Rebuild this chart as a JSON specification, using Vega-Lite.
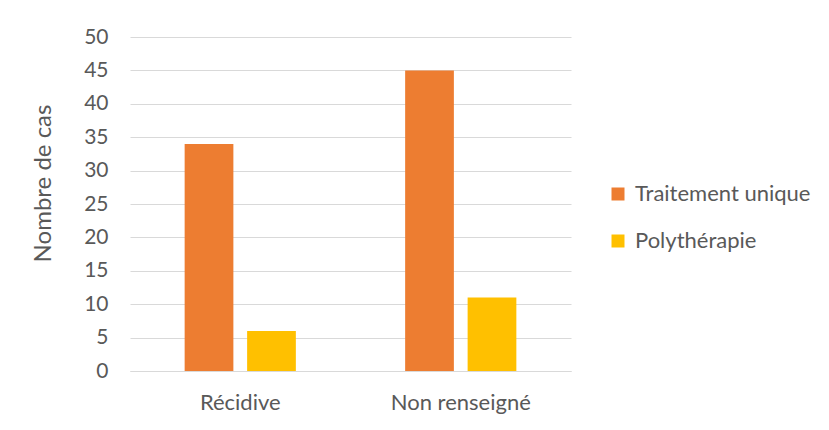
{
  "$schema": "https://vega.github.io/schema/vega-lite/v6.json",
  "width": 441,
  "height": 334,
  "autosize": {"type": "none"},
  "padding": {"left": 130, "top": 37, "right": 258, "bottom": 59},
  "background": "white",
  "data": {
    "values": [
      {"categorie": "Récidive", "traitement": "Traitement unique", "cas": 34},
      {"categorie": "Récidive", "traitement": "Polythérapie", "cas": 6},
      {"categorie": "Non renseigné", "traitement": "Traitement unique", "cas": 45},
      {"categorie": "Non renseigné", "traitement": "Polythérapie", "cas": 11}
    ]
  },
  "mark": {"type": "bar"},
  "encoding": {
    "x": {
      "field": "categorie",
      "type": "nominal",
      "sort": ["Récidive", "Non renseigné"],
      "scale": {"paddingInner": 0.49, "paddingOuter": 0.245},
      "axis": {
        "title": null,
        "labelAngle": 0,
        "labelPadding": 21,
        "labelFontSize": 22,
        "domainColor": "#D9D9D9",
        "domainWidth": 1,
        "ticks": false
      }
    },
    "xOffset": {
      "field": "traitement",
      "sort": ["Traitement unique", "Polythérapie"],
      "scale": {"paddingInner": 0.22, "paddingOuter": 0.01}
    },
    "y": {
      "field": "cas",
      "type": "quantitative",
      "scale": {"domain": [0, 50]},
      "axis": {
        "title": "Nombre de cas",
        "values": [0, 5, 10, 15, 20, 25, 30, 35, 40, 45, 50],
        "domain": false,
        "ticks": false,
        "labelPadding": 22,
        "labelFontSize": 21,
        "titleFontSize": 24,
        "titleFontWeight": "normal",
        "titlePadding": 28,
        "titleY": 146,
        "gridColor": "#D9D9D9",
        "gridWidth": 1
      }
    },
    "color": {
      "field": "traitement",
      "type": "nominal",
      "sort": ["Traitement unique", "Polythérapie"],
      "scale": {"range": ["#ED7D31", "#FFC000"]},
      "legend": {
        "title": null,
        "orient": "none",
        "legendX": 477,
        "legendY": 146,
        "symbolType": "square",
        "symbolSize": 169,
        "symbolStrokeWidth": 0,
        "symbolOpacity": 1,
        "labelFontSize": 22,
        "labelOffset": 6,
        "labelLimit": 300,
        "rowPadding": 25
      }
    }
  },
  "config": {
    "font": "Lato",
    "view": {"stroke": null},
    "axis": {"labelColor": "#595959", "titleColor": "#595959", "labelFont": "Lato", "titleFont": "Lato"},
    "legend": {"labelColor": "#595959", "labelFont": "Lato"}
  }
}
